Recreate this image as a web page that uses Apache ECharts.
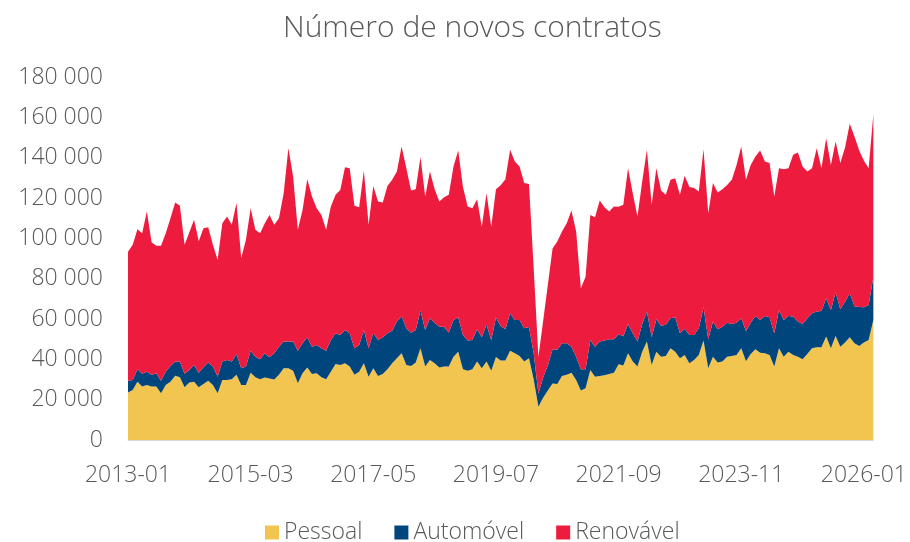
<!DOCTYPE html>
<html>
<head>
<meta charset="utf-8">
<script src="https://cdn.jsdelivr.net/npm/echarts@6/dist/echarts.min.js"></script>
<style>
  html, body { margin: 0; padding: 0; background: #fff; }
  #chart { width: 910px; height: 542px; }
</style>
</head>
<body>
<div id="chart"></div>
<script>
// meses de 2013-01 a 2026-03
const startYear = 2013;
const monthCount = 159;
const months = [];
for (let k = 0; k < monthCount; k++) {
  const y = startYear + Math.floor(k / 12);
  const m = (k % 12) + 1;
  months.push(y + '-' + (m < 10 ? '0' + m : m));
}

const seriesNames = ['Pessoal', 'Automóvel', 'Renovável'];

const pessoal = [
  23500, 24800, 28900, 26500, 27300, 26500, 26500, 23200, 27300, 28900,
  31800, 31100, 26100, 28500, 28900, 26100, 27800, 29400, 27300, 23200,
  29800, 29800, 30100, 32300, 27300, 27300, 33400, 31100, 30100, 31000,
  30500, 30000, 32300, 35600, 35600, 34400, 28100, 33100, 36000, 32700,
  33100, 31100, 30100, 33900, 37700, 37200, 38000, 36400, 32300, 33900,
  38000, 31400, 35600, 31700, 32700, 35100, 38000, 40500, 43000, 37200,
  36700, 38400, 45500, 36400, 39700, 38000, 36000, 36400, 36400, 41300,
  43800, 35100, 34400, 35100, 38900, 35600, 38900, 34400, 41200, 39400,
  39400, 44300, 43000, 41700, 38900, 40500, 30000, 16500, 21000, 24500,
  28000, 27800, 31700, 32300, 33400, 29800, 24500, 25600, 34700, 31400,
  31700, 32100, 32700, 33400, 37600, 37000, 43000, 38900, 36400, 43800,
  48800, 37200, 43800, 41300, 41700, 45500, 43800, 40500, 42200, 38000,
  39700, 42200, 49300, 35600, 41300, 38400, 38900, 41300, 41700, 42200,
  45500, 39000, 42700, 45000, 43300, 43000, 42200, 36400, 45500, 41300,
  43800, 42200, 41300, 40000, 42700, 45500, 46000, 46000, 51300, 45500,
  51600, 46300, 48300, 50900, 48000, 46600, 48300, 49600, 59500
];

const automovel = [
  5900, 5000, 6200, 6300, 6600, 5800, 6600, 6200, 6600, 7800,
  7100, 7800, 6700, 6200, 8300, 7300, 8300, 9000, 9100, 8200,
  9100, 9900, 8800, 10400, 8300, 9100, 10900, 10200, 9900, 12000,
  10500, 13000, 14000, 13200, 13200, 14400, 16200, 14900, 14900, 13600,
  14000, 14400, 14200, 15700, 15200, 14900, 16600, 16500, 13200, 13200,
  16600, 14100, 17600, 17900, 18200, 17800, 16200, 18200, 18500, 18200,
  16500, 16200, 18700, 18200, 20700, 20200, 20200, 19800, 16800, 18200,
  17100, 17000, 14900, 14500, 16000, 15300, 18200, 15200, 19600, 17100,
  15500, 18500, 16500, 17800, 16500, 15500, 13000, 6500, 10000, 12500,
  17000, 16900, 16300, 15700, 12900, 11500, 10600, 9500, 14900, 14900,
  17100, 17200, 17200, 16500, 14900, 14500, 14500, 14000, 12400, 13700,
  14900, 13700, 16100, 15300, 15400, 14900, 17100, 12400, 13000, 14100,
  12400, 13200, 16500, 14300, 17400, 16500, 17300, 16900, 15800, 16000,
  14900, 15000, 15500, 16500, 16200, 18500, 18700, 16500, 19000, 18200,
  17700, 19000, 17400, 17500, 17700, 17300, 17700, 18000, 19000, 19000,
  21700, 18500, 20300, 21900, 18300, 19400, 17500, 17400, 21500
];

const renovavel = [
  64000, 67000, 69400, 69700, 79400, 65700, 63200, 66900, 68600, 73300,
  78900, 77200, 64000, 68300, 72000, 65100, 68900, 67100, 60400, 57900,
  68600, 71100, 67800, 74800, 54600, 62900, 70600, 62900, 62500, 64500,
  70600, 63700, 63700, 73600, 95900, 81900, 59900, 66100, 78400, 74400,
  67800, 66100, 59900, 66200, 68700, 71900, 80700, 81900, 70600, 68300,
  79000, 61200, 72800, 68700, 66900, 73100, 74800, 74400, 84000, 79400,
  70500, 69800, 76100, 66100, 72700, 66200, 62100, 64200, 68400, 76100,
  82700, 73300, 66500, 65300, 64500, 54900, 65300, 56200, 63600, 69800,
  74400, 81100, 78600, 76100, 72000, 71000, 42000, 18300, 28000, 40000,
  50000, 53700, 55400, 59500, 67500, 62100, 40200, 45900, 62000, 64200,
  69900, 66100, 63400, 65900, 63100, 65100, 77300, 69500, 62000, 70700,
  80200, 65700, 74900, 67100, 64500, 68600, 68900, 68700, 75800, 73300,
  72800, 67800, 78400, 62600, 68700, 67800, 68200, 68300, 71500, 78200,
  85100, 75000, 78200, 79100, 84100, 76600, 76400, 67800, 70300, 74800,
  73300, 80200, 83900, 78100, 72700, 72000, 81000, 70800, 79300, 71900,
  74700, 72500, 76400, 84000, 84200, 77500, 72700, 67800, 80300
];

let chart = echarts.init(document.getElementById('chart'), null, { renderer: 'canvas' });
const colors = ['#F2C550', '#00467C', '#ED1C3E'];
const txt = '#595959';
const font = 'Open Sans';

function fmt(v) {
  return String(v).replace(/\B(?=(\d{3})+(?!\d))/g, ' ');
}

function areaSeries(name, data) {
  return {
    name: name,
    type: 'line',
    stack: 'total',
    data: data,
    symbol: 'none',
    lineStyle: { width: 0 },
    areaStyle: { opacity: 1 },
    animation: false
  };
}

let option = {
  animation: false,
  color: colors,
  textStyle: { fontFamily: font },
  title: {
    text: 'Número de novos contratos',
    left: 278,
    top: 8,
    textStyle: { fontFamily: font, fontSize: 30, fontWeight: 300, color: txt }
  },
  legend: {
    data: seriesNames,
    top: 516,
    left: 260,
    icon: 'rect',
    itemWidth: 14,
    itemHeight: 14,
    itemGap: 32,
    textStyle: { fontFamily: font, fontSize: 23, fontWeight: 300, color: txt }
  },
  grid: { left: 128, right: 36, top: 77, bottom: 102 },
  xAxis: {
    type: 'category',
    data: months,
    boundaryGap: false,
    axisLine: { lineStyle: { color: '#d9d9d9' } },
    axisTick: { show: false },
    axisLabel: { interval: 25, color: txt, fontSize: 23, fontWeight: 300, fontFamily: font, margin: 24 }
  },
  yAxis: {
    type: 'value',
    min: 0,
    max: 180000,
    interval: 20000,
    splitLine: { show: false },
    axisLine: { show: false },
    axisTick: { show: false },
    axisLabel: { color: txt, fontSize: 23, fontWeight: 300, fontFamily: font, margin: 25, formatter: fmt }
  },
  series: [
    areaSeries(seriesNames[0], pessoal),
    areaSeries(seriesNames[1], automovel),
    areaSeries(seriesNames[2], renovavel)
  ]
};
chart.setOption(option);
</script>
</body>
</html>
